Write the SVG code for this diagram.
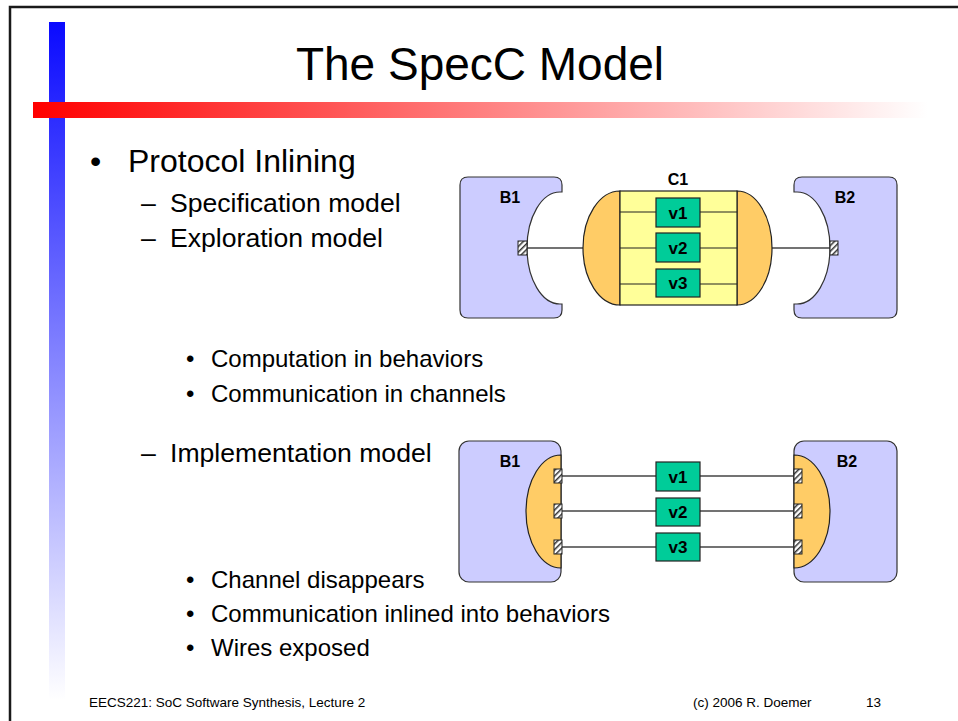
<svg xmlns="http://www.w3.org/2000/svg" width="958" height="721" viewBox="0 0 958 721">
<style>
text{font-family:"Liberation Sans",Arial,sans-serif;fill:#000}
.t1{font-size:32px}
.t2{font-size:26.6px}
.t3{font-size:24px}
.ft{font-size:13.5px}
.lbl{font-size:16px;font-weight:bold;text-anchor:middle}
.vl{font-size:17px;font-weight:bold;text-anchor:middle}
.beh{fill:#ccccff;stroke:#333;stroke-width:1.2}
.orng{fill:#ffcc66;stroke:#222;stroke-width:1.2}
.yel{fill:#ffff99;stroke:#222;stroke-width:1.2}
.var{fill:#00cc99;stroke:#222;stroke-width:1.2}
.port{fill:url(#hatch);stroke:#222;stroke-width:1}
.wire{stroke:#444;stroke-width:1.5;fill:none}
.inner{stroke:#222;stroke-width:1.2;fill:none}
</style>
<defs>
<linearGradient id="blueG" x1="0" y1="0" x2="0" y2="1">
<stop offset="0" stop-color="#0a0aff"/>
<stop offset="1" stop-color="#ffffff"/>
</linearGradient>
<linearGradient id="redG" x1="0" y1="0" x2="1" y2="0">
<stop offset="0" stop-color="#ff0000"/>
<stop offset="1" stop-color="#ffffff"/>
</linearGradient>
<pattern id="hatch" patternUnits="userSpaceOnUse" width="4" height="4" patternTransform="rotate(45)">
<rect width="4" height="4" fill="#fff"/>
<rect width="1.5" height="4" fill="#333"/>
</pattern>
</defs>

<rect x="0" y="0" width="958" height="721" fill="#fff"/>
<g id="frame">
<path d="M10,730 V7 H970" fill="none" stroke="#1a1a1a" stroke-width="2.5"/>
</g>
<g id="decor">
<rect x="49" y="22" width="16" height="678" fill="url(#blueG)"/>
<rect x="33" y="102" width="895" height="16" fill="url(#redG)"/>
</g>

<g id="title">
<text x="480" y="80" font-size="46" text-anchor="middle">The SpecC Model</text>
</g>

<g id="bullets">
<text class="t1" x="90" y="172">•</text>
<text class="t1" x="128" y="172">Protocol Inlining</text>
<text class="t2" x="141" y="212">–</text>
<text class="t2" x="170" y="212">Specification model</text>
<text class="t2" x="141" y="247">–</text>
<text class="t2" x="170" y="247">Exploration model</text>
<text class="t3" x="186" y="367">•</text>
<text class="t3" x="211" y="367">Computation in behaviors</text>
<text class="t3" x="186" y="402">•</text>
<text class="t3" x="211" y="402">Communication in channels</text>
<text class="t2" x="141" y="462">–</text>
<text class="t2" x="170" y="462">Implementation model</text>
<text class="t3" x="186" y="588">•</text>
<text class="t3" x="211" y="588">Channel disappears</text>
<text class="t3" x="186" y="622">•</text>
<text class="t3" x="211" y="622">Communication inlined into behaviors</text>
<text class="t3" x="186" y="656">•</text>
<text class="t3" x="211" y="656">Wires exposed</text>
</g>

<g id="footer">
<text class="ft" x="89" y="707">EECS221: SoC Software Synthesis, Lecture 2</text>
<text class="ft" x="693" y="707">(c) 2006 R. Doemer</text>
<text class="ft" x="866" y="707">13</text>
</g>

<!-- Top diagram -->
<g id="connectors-top">
<line class="wire" x1="527" y1="248" x2="583" y2="248"/>
<line class="wire" x1="772" y1="248" x2="831" y2="248"/>
</g>
<g id="B1-top">
<path class="beh" d="M468,177 H554 Q562,177 562,185 V192 H560 A33 56 0 0 0 560 304 H562 V310 Q562,318 554,318 H468 Q460,318 460,310 V185 Q460,177 468,177 Z"/>
<rect class="port" x="518" y="241" width="9" height="14"/>
<text class="lbl" x="510" y="203">B1</text>
</g>
<g id="B2-top">
<path class="beh" d="M802,177 H889 Q897,177 897,185 V310 Q897,318 889,318 H802 Q794,318 794,310 V304 H797 A33 56 0 0 0 797 192 H794 V185 Q794,177 802,177 Z"/>
<rect class="port" x="830" y="241" width="8" height="14"/>
<text class="lbl" x="845" y="203">B2</text>
</g>
<g id="C1">
<text class="lbl" x="678" y="185">C1</text>
<path class="orng" d="M620,191 A37 57 0 0 0 620 305 Z"/>
<path class="orng" d="M737,191 A35 57 0 0 1 737 305 Z"/>
<rect class="yel" x="620" y="191" width="117" height="114"/>
<path class="inner" d="M620,212 H656 M700,212 H737 M620,248 H656 M700,248 H737 M620,284 H656 M700,284 H737"/>
<g id="C1-v1"><rect class="var" x="656" y="198" width="44" height="29"/><text class="vl" x="678" y="219">v1</text></g>
<g id="C1-v2"><rect class="var" x="656" y="233" width="44" height="29"/><text class="vl" x="678" y="254">v2</text></g>
<g id="C1-v3"><rect class="var" x="656" y="269" width="44" height="28"/><text class="vl" x="678" y="289">v3</text></g>
</g>

<!-- Bottom diagram -->
<g id="B1-bottom">
<rect class="beh" x="459" y="441" width="102" height="141" rx="10"/>
<path class="orng" d="M561,455 A35 56.5 0 0 0 561 568 Z"/>
<text class="lbl" x="510" y="467">B1</text>
</g>
<g id="B2-bottom">
<rect class="beh" x="794" y="441" width="103" height="141" rx="10"/>
<path class="orng" d="M794,455 A36 56.5 0 0 1 794 568 Z"/>
<text class="lbl" x="847" y="467">B2</text>
</g>
<g id="connectors-bottom">
<line class="wire" x1="562" y1="476" x2="656" y2="476"/>
<line class="wire" x1="700" y1="476" x2="794" y2="476"/>
<line class="wire" x1="562" y1="511" x2="656" y2="511"/>
<line class="wire" x1="700" y1="511" x2="794" y2="511"/>
<line class="wire" x1="562" y1="547" x2="656" y2="547"/>
<line class="wire" x1="700" y1="547" x2="794" y2="547"/>
</g>
<g id="ports-bottom">
<rect class="port" x="554" y="469" width="8" height="14"/>
<rect class="port" x="554" y="504" width="8" height="14"/>
<rect class="port" x="554" y="540" width="8" height="14"/>
<rect class="port" x="794" y="469" width="8" height="14"/>
<rect class="port" x="794" y="504" width="8" height="14"/>
<rect class="port" x="794" y="540" width="8" height="14"/>
</g>
<g id="v1-bottom"><rect class="var" x="656" y="462" width="44" height="29"/><text class="vl" x="678" y="483">v1</text></g>
<g id="v2-bottom"><rect class="var" x="656" y="498" width="44" height="28"/><text class="vl" x="678" y="518">v2</text></g>
<g id="v3-bottom"><rect class="var" x="656" y="533" width="44" height="28"/><text class="vl" x="678" y="553">v3</text></g>
</svg>
